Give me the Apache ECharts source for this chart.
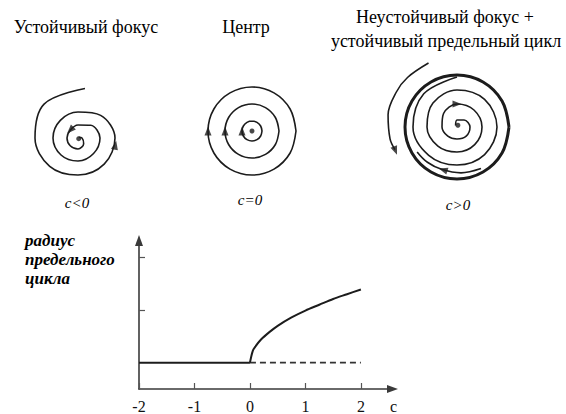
<!DOCTYPE html>
<html><head><meta charset="utf-8">
<script src="https://cdn.jsdelivr.net/npm/echarts@6/dist/echarts.min.js"></script>
<style>html,body{margin:0;padding:0;background:#fff}#c{width:566px;height:414px}</style>
</head><body><div id="c"></div>
<script>
// ---- bottom chart: limit cycle radius vs c ----
const cTicks = [-2, -1, 0, 1, 2];
const radiusTicks = [1, 2];
const baseSolid = [[-2, 0], [0, 0]];
const baseDashed = [[0, 0], [2, 0]];
const cycleC = [0, 0.05, 0.1, 0.2, 0.35, 0.5, 0.75, 1, 1.25, 1.5, 1.75, 2];
const cycleR = [0, 0.22, 0.31, 0.44, 0.58, 0.7, 0.86, 0.99, 1.1, 1.21, 1.3, 1.39];

// ---- phase portraits: angle (deg, counter-clockwise), radius (px) ----
// stable focus, c<0
const focusAngle = [82,135,180,225,270,315,360,405,450,495,540,585,630,675,720,765,810,855,900,945,990,1035,1080,1125];
const focusRadius = [50,48,43,40,37,37,37,32,26,25,25,24,23,22,22,18,13,11,11,11,11,8,4,1];
const focusArrowAngle = [349, 135];
const focusArrowRadius = [38, 11];
// centre, c=0
const circleAngles = [0,30,60,90,120,150,180,210,240,270,300,330,360];
const centerRadii = [44, 27, 10];
const centerArrowAngle = 180;
// unstable focus + stable limit cycle, c>0
const limitCycleRadius = 52;
const spiralAngle = [135,90,45,0,-45,-90,-135,-180,-225,-270,-315,-360,-405,-450,-495,-540,-585,-630,-675,-720,-765,-810,-855,-900,-945,-990];
const spiralRadius = [2,7,10,13,13,12,13,15,19,23,24,25,25,25,27,30,34,37,39,40,39,38,40,44,47,50];
const spiralArrow = [23, 90];
const innerArcAngle = [300, 275, 250, 230, 212];
const innerArcRadius = [48, 46, 45, 46, 47];
const innerArrow = [45, 252];
const outerArcAngle = [114, 135, 150, 170, 190, 200];
const outerArcRadius = [70, 70, 70, 70, 68, 66];
const outerArrow = [66, 201];

const INK = '#1c1c1c';
const SERIF = 'Liberation Serif';
const norm = a => ((a % 360) + 360) % 360;

function polarLine(angles, radii, pi, width) {
  return {
    type: 'line', coordinateSystem: 'polar', polarIndex: pi,
    data: angles.map((a, i) => [radii[i], norm(a)]),
    smooth: 0.36, showSymbol: false, silent: true,
    lineStyle: { color: INK, width: width }
  };
}
// ccw=true: motion with increasing angle
function arrows(points, pi, ccw) {
  return {
    type: 'scatter', coordinateSystem: 'polar', polarIndex: pi, silent: true,
    symbol: 'triangle', symbolSize: [7, 9],
    itemStyle: { color: INK },
    data: points.map(p => ({ value: [p[0], norm(p[1])], symbolRotate: ccw ? norm(p[1]) : norm(p[1]) - 180 }))
  };
}
function dot(p, pi) {
  return { type: 'scatter', coordinateSystem: 'polar', polarIndex: pi, silent: true,
    symbol: 'circle', symbolSize: 5, itemStyle: { color: INK }, data: [[p[0], p[1]]] };
}

const series = [];
// focus
series.push(polarLine(focusAngle, focusRadius, 0, 1.6));
series.push(arrows(focusArrowAngle.map((a, i) => [focusArrowRadius[i], a]), 0, true));
series.push(dot([1, 315], 0));
// centre
centerRadii.forEach(r => series.push(polarLine(circleAngles, circleAngles.map(() => r), 1, 1.6)));
series.push(arrows(centerRadii.map(r => [r, centerArrowAngle]), 1, false));
series.push(dot([0, 0], 1));
// unstable focus + limit cycle
series.push(polarLine(circleAngles, circleAngles.map(() => limitCycleRadius), 2, 3));
series.push(polarLine(spiralAngle, spiralRadius, 2, 1.6));
series.push(polarLine(innerArcAngle, innerArcRadius, 2, 1.6));
series.push(polarLine(outerArcAngle, outerArcRadius, 2, 1.6));
series.push(arrows([spiralArrow, innerArrow], 2, false));
series.push(arrows([outerArrow], 2, true));
series.push(dot([2, 63], 2));

// bottom chart series
series.push({ type: 'line', xAxisIndex: 0, yAxisIndex: 0, data: baseSolid, showSymbol: false, silent: true,
  lineStyle: { color: INK, width: 2 } });
series.push({ type: 'line', xAxisIndex: 0, yAxisIndex: 0, data: baseDashed, showSymbol: false, silent: true,
  lineStyle: { color: '#333', width: 1.6, type: [6, 4] } });
series.push({ type: 'line', xAxisIndex: 0, yAxisIndex: 0, data: cycleC.map((c, i) => [c, cycleR[i]]),
  showSymbol: false, silent: true, smooth: 0.3, lineStyle: { color: INK, width: 2 } });

function txt(text, x, y, size, extra) {
  return Object.assign({ type: 'text', x: x, y: y, silent: true,
    style: Object.assign({ text: text, fontSize: size, fontFamily: SERIF, fill: '#000',
      align: 'center', verticalAlign: 'middle', textAlign: 'center', textVerticalAlign: 'middle' }, extra || {}) });
}

const option = {
  animation: false,
  backgroundColor: '#fff',
  polar: [
    { center: [78, 138], radius: 80 },
    { center: [252, 131], radius: 80 },
    { center: [457, 127], radius: 80 }
  ],
  angleAxis: [0, 1, 2].map(i => ({ polarIndex: i, type: 'value', min: 0, max: 360, startAngle: 0, clockwise: false, show: false })),
  radiusAxis: [0, 1, 2].map(i => ({ polarIndex: i, type: 'value', min: 0, max: 80, show: false })),
  grid: { left: 139, top: 240.5, width: 253.5, height: 152.5 },
  xAxis: {
    type: 'value', min: -2, max: 2.57,
    axisLine: { show: true, onZero: false, symbol: ['none', 'triangle'], symbolSize: [8, 11],
      lineStyle: { color: '#3a3a3a', width: 1.6 } },
    axisTick: { show: true, inside: true, length: 6, customValues: cTicks, lineStyle: { color: '#555', width: 1.2 } },
    axisLabel: { customValues: cTicks, color: '#111', fontFamily: SERIF, fontSize: 16, margin: 9 },
    splitLine: { show: false },
    name: 'c', nameLocation: 'end', nameGap: 1,
    nameTextStyle: { color: '#111', fontFamily: SERIF, fontSize: 16, align: 'center', verticalAlign: 'top', padding: [9, 0, 0, 0] }
  },
  yAxis: {
    type: 'value', min: -0.5, max: 2.32,
    axisLine: { show: true, onZero: false, symbol: ['none', 'triangle'], symbolSize: [8, 11],
      lineStyle: { color: '#3a3a3a', width: 1.6 } },
    axisTick: { show: true, inside: true, length: 6, customValues: radiusTicks, lineStyle: { color: '#555', width: 1.2 } },
    axisLabel: { show: false },
    splitLine: { show: false }
  },
  graphic: [
    txt('Устойчивый фокус', 86, 27, 18),
    txt('Центр', 246, 27, 18),
    txt('Неустойчивый фокус +', 445, 17, 18),
    txt('устойчивый предельный цикл', 446, 41, 18),
    txt('c<0', 77, 203, 15, { fontStyle: 'italic' }),
    txt('c=0', 250, 200, 15, { fontStyle: 'italic' }),
    txt('c>0', 458, 205, 15, { fontStyle: 'italic' }),
    txt('радиус\nпредельного\nцикла', 25, 231, 17, { fontStyle: 'italic', fontWeight: 'bold', align: 'left', textAlign: 'left', verticalAlign: 'top', textVerticalAlign: 'top', lineHeight: 19 })
  ],
  series: series
};
const chart = echarts.init(document.getElementById('c'), null, { renderer: 'svg' });
chart.setOption(option);
</script></body></html>
